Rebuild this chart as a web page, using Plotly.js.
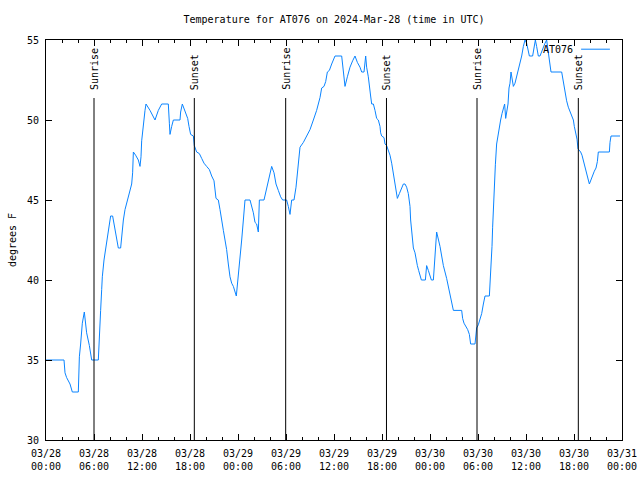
<!DOCTYPE html>
<html>
<head>
<meta charset="utf-8">
<script src="https://cdn.plot.ly/plotly-3.0.1.min.js"></script>
<style>html,body{margin:0;padding:0;background:#fff;}#chart{width:640px;height:480px;}</style>
</head>
<body>
<div id="chart"></div>
<script>
// ---- data ----
const seriesName = "AT076";
const startDay = "2024-03-28";
// hours since 2024-03-28 00:00 UTC
const hoursSinceStart = [0, 2.25, 2.375, 2.58, 3.0, 3.29, 4.04, 4.17, 4.33, 4.54, 4.79, 5.08, 5.42, 5.71, 6.54, 6.67, 6.83, 6.96, 7.04, 7.25, 7.46, 7.71, 7.875, 8.08, 8.33, 8.625, 8.83, 9.04, 9.33, 9.46, 9.67, 9.875, 10.08, 10.29, 10.5, 10.71, 10.83, 10.92, 11.2, 11.54, 11.75, 11.875, 11.96, 12.08, 12.25, 12.375, 12.5, 13.0, 13.625, 14.04, 14.46, 15.29, 15.42, 15.5, 15.71, 15.92, 16.75, 16.83, 17.04, 17.375, 17.71, 17.875, 18.08, 18.42, 18.54, 18.83, 19.17,
  19.46, 19.75, 20.08, 20.42, 20.71, 21.0, 21.25, 21.54, 21.75, 21.96, 22.17, 22.375, 22.58, 22.79, 23.0, 23.21, 23.42, 23.79, 24.04, 24.25, 24.46, 24.67, 24.875, 25.5, 25.71, 25.92, 26.125, 26.33, 26.54, 26.67, 27.25, 27.5, 27.79, 28.0, 28.21, 28.5, 28.75, 29.04, 29.33, 29.58, 30.08, 30.29, 30.5, 30.71, 31.0, 31.25, 31.42, 31.58, 31.75, 32.17, 32.58, 33.0, 33.42, 33.83, 34.25, 34.46, 34.75, 34.96, 35.17, 35.42, 35.71, 35.92, 36.125, 36.96,
  37.17, 37.375, 37.67, 38.0, 38.33, 38.625, 38.92, 39.25, 39.46, 39.75, 39.96, 40.08, 40.29, 40.42, 40.58, 40.71, 40.92, 41.125, 41.33, 41.54, 41.75, 41.83, 41.96, 42.25, 42.375, 42.58, 42.79, 43.0, 43.21, 43.33, 43.5, 43.625, 43.75, 43.92, 44.17, 44.375, 44.67, 44.875, 45.08, 45.29, 45.5, 45.58, 45.71, 45.83, 45.92, 46.125, 46.25, 46.42, 46.58, 46.75, 46.92, 47.42, 47.58, 47.79, 48.0, 48.17, 48.42, 48.625, 48.83, 49.25, 49.67, 50.08, 50.5, 50.71, 50.92, 51.96, 52.08, 52.25, 52.5, 52.71, 52.92, 53.08, 53.625, 53.83, 54.04, 54.25, 54.46, 54.67, 54.875, 55.42, 55.5, 55.625, 55.75, 55.83, 55.92, 56.04, 56.17, 56.33, 56.54, 56.75,
  56.83, 57.0, 57.17, 57.33, 57.46, 57.58, 57.75, 57.875, 58.0, 58.125, 58.29, 58.42, 58.625, 58.83, 59.04, 59.25, 59.46, 59.67, 59.875, 60.08, 60.29, 60.42, 60.83, 61.04, 61.17, 61.33, 61.54, 61.75, 61.96, 62.17, 62.375, 62.58, 62.79, 63.0, 63.125, 64.46, 64.67, 64.875, 65.08, 65.29, 65.5, 65.71, 65.92, 66.04, 66.21, 66.375, 66.5, 66.83, 67.0, 67.17, 67.375, 67.58, 67.79, 67.92, 68.125, 68.33, 68.54, 68.75, 68.92, 69.04, 70.42, 70.5, 70.625, 71.75];
const tempF = [35, 35, 34.2, 33.9, 33.5, 33, 33, 35.2, 36, 37.3, 38, 36.7, 35.9, 35, 35, 36.9, 38.1, 39.4, 40.2, 41.25, 41.9, 42.7, 43.3, 44, 44, 43.1, 42.6, 42, 42, 42.7, 43.75, 44.4, 44.8, 45.2, 45.6, 46, 46.7, 48, 47.8, 47.5, 47.1, 47.7, 48.7, 49.4, 50.2, 50.6, 51, 50.6, 50, 50.6, 51, 51, 49.8, 49.1, 49.6, 50, 50, 50.5, 51, 50.6, 50.1, 49.6, 49.1, 49, 48.4, 48, 47.9,
  47.6, 47.3, 47.1, 46.9, 46.5, 46.2, 45.1, 45.0, 44.4, 43.6, 43.1, 42.5, 41.9, 41.0, 40.2, 39.8, 39.6, 39.0, 40.2, 41.25, 42.5, 43.75, 45.0, 45.0, 44.6, 44.2, 43.6, 43.5, 43.0, 45.0, 45.0, 45.6, 46.25, 46.8, 47.1, 46.7, 46.0, 45.6, 45.2, 45.0, 45.0, 44.6, 44.1, 45.0, 45.0, 45.8, 46.7, 47.7, 48.3, 48.6, 49.0, 49.4, 50.0, 50.6, 51.4, 52.0, 52.1, 52.4, 53.0, 53.1, 53.5, 53.8, 54.0, 54.0,
  53.1, 52.1, 52.7, 53.3, 53.7, 54.0, 53.6, 53.3, 53.0, 53.0, 54.0, 53.3, 52.7, 52.0, 51.5, 51.0, 51.0, 50.6, 50.1, 50.0, 49.6, 49.2, 49.0, 48.9, 48.5, 48.4, 48.1, 47.8, 47.3, 46.9, 46.5, 46.0, 45.6, 45.1, 45.4, 45.7, 46.0, 46.0, 45.8, 45.4, 44.6, 43.75, 43.1, 42.5, 42.0, 41.7, 41.25, 40.9, 40.6, 40.3, 40.0, 40.0, 40.9, 40.6, 40.3, 40.0, 40.0, 41.5, 43.0, 42.1, 40.9, 40.1, 39.2, 38.7, 38.1, 38.1, 37.6, 37.3, 37.1, 36.9, 36.6, 36.0, 36.0, 37.0, 37.2, 37.5, 37.9, 38.5, 39.0, 39.0, 39.6, 41.0, 42.1, 43.3, 44.6, 46.0, 47.2, 48.5, 49.2, 49.6,
  50.0, 50.4, 50.8, 51.0, 50.1, 50.6, 51.0, 52.0, 52.3, 53.0, 52.3, 52.1, 52.3, 52.7, 53.1, 53.5, 54.0, 54.6, 55.0, 54.8, 54.2, 54.0, 54.0, 54.8, 55.0, 54.6, 54.0, 54.0, 54.3, 54.6, 54.8, 55.0, 54.3, 53.7, 53.0, 53.0, 52.3, 51.8, 51.2, 50.8, 50.5, 50.2, 50.0, 49.6, 49.2, 48.8, 48.2, 48.0, 47.8, 47.5, 47.1, 46.7, 46.25, 46.0, 46.3, 46.5, 46.8, 47.0, 47.4, 48.0, 48.0, 48.6, 49.0, 49.0];
const sunEventHours = [6.0, 18.54, 29.96, 42.56, 53.875, 66.54];
const sunEventLabels = ["Sunrise", "Sunset", "Sunrise", "Sunset", "Sunrise", "Sunset"];
const xRangeHours = [0, 72];
const yRange = [30, 55];

// ---- helpers ----
const base = Date.UTC(2024, 2, 28);
function pad(n){ return (n < 10 ? "0" : "") + n; }
function hToDate(h){
  const d = new Date(base + Math.round(h * 3600000));
  return d.getUTCFullYear() + "-" + pad(d.getUTCMonth()+1) + "-" + pad(d.getUTCDate()) + " " +
         pad(d.getUTCHours()) + ":" + pad(d.getUTCMinutes()) + ":" + pad(d.getUTCSeconds());
}

const FONT = "DejaVu Sans Mono, monospace";
const LINE_COLOR = "#0a84ff";

const trace = {
  x: hoursSinceStart.map(hToDate),
  y: tempF,
  type: "scatter",
  mode: "lines",
  name: seriesName,
  line: {color: LINE_COLOR, width: 1},
  showlegend: false
};

const shapes = sunEventHours.map(h => ({
  type: "line", xref: "x", yref: "paper",
  x0: hToDate(h), x1: hToDate(h), y0: 0, y1: 0.855,
  line: {color: "#000", width: 1}
}));
// legend sample line (gnuplot style: text then line)
shapes.push({type: "line", xref: "paper", yref: "paper", x0: 0.929, x1: 0.979, y0: 0.977, y1: 0.977,
  line: {color: LINE_COLOR, width: 1}});

const annotations = sunEventHours.map((h, i) => ({
  x: hToDate(h), xref: "x", y: 0.87, yref: "paper",
  text: sunEventLabels[i], textangle: -90, showarrow: false,
  xanchor: "center", yanchor: "bottom",
  font: {family: FONT, size: 10, color: "#000"}
}));
annotations.push({x: 0.918, xref: "paper", y: 0.977, yref: "paper", text: seriesName,
  showarrow: false, xanchor: "right", yanchor: "middle",
  font: {family: FONT, size: 10, color: "#000"}});

const layout = {
  width: 640, height: 480,
  margin: {l: 46, r: 18, t: 40, b: 40, pad: 0},
  paper_bgcolor: "#fff", plot_bgcolor: "#fff",
  font: {family: FONT, size: 10, color: "#000"},
  title: {text: "Temperature for AT076 on 2024-Mar-28 (time in UTC)",
          x: 0.5, xref: "paper", y: 1 - 19/480, yref: "container", yanchor: "middle",
          font: {family: FONT, size: 10, color: "#000"}},
  xaxis: {
    type: "date",
    range: xRangeHours.map(hToDate),
    tick0: hToDate(0), dtick: 6 * 3600000,
    tickformat: "%m/%d<br>%H:%M",
    ticks: "inside", ticklen: 6, tickcolor: "#000", tickwidth: 1,
    minor: {dtick: 2 * 3600000, tick0: hToDate(0), ticks: "inside", ticklen: 3, tickcolor: "#000", showgrid: false},
    showline: true, linecolor: "#000", linewidth: 1, mirror: "ticks",
    showgrid: false, zeroline: false,
    tickfont: {family: FONT, size: 10, color: "#000"},
    ticklabelstandoff: 4
  },
  yaxis: {
    range: yRange, dtick: 5, tick0: 30,
    ticks: "inside", ticklen: 6, tickcolor: "#000", tickwidth: 1,
    showline: true, linecolor: "#000", linewidth: 1, mirror: "ticks",
    showgrid: false, zeroline: false,
    tickfont: {family: FONT, size: 10, color: "#000"},
    ticklabelstandoff: 4,
    title: {text: "degrees F", standoff: 8, font: {family: FONT, size: 10, color: "#000"}}
  },
  shapes: shapes,
  annotations: annotations,
  showlegend: false
};

Plotly.newPlot("chart", [trace], layout, {staticPlot: true, displayModeBar: false});
</script>
</body>
</html>
